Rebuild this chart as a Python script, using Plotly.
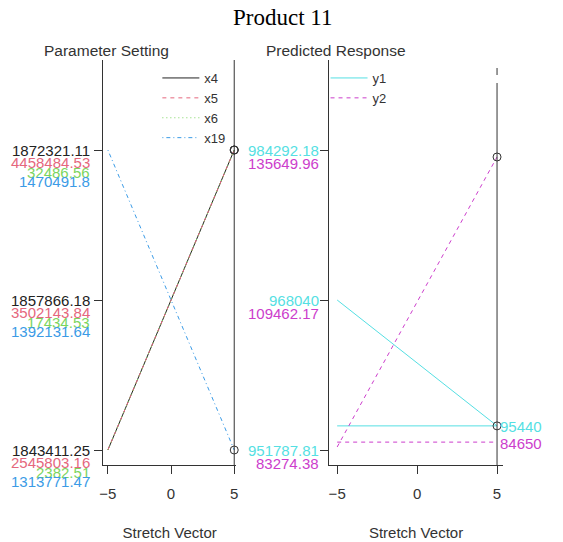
import plotly.graph_objects as go

W, H = 563, 542

# ---------------- data ----------------
stretch = [-5, 5]

x4_vals = [1843411.25, 1872321.11]
x5_vals = [2545803.16, 4458484.53]
x6_vals = [2382.51, 32486.56]
x19_vals = [1470491.8, 1313771.47]

x4_ticks = [1843411.25, 1857866.18, 1872321.11]
x5_ticks = [2545803.16, 3502143.84, 4458484.53]
x6_ticks = [2382.51, 17434.53, 32486.56]
x19_ticks = [1313771.47, 1392131.64, 1470491.8]
x4_tick_text = ["1843411.25", "1857866.18", "1872321.11"]
x5_tick_text = ["2545803.16", "3502143.84", "4458484.53"]
x6_tick_text = ["2382.51", "17434.53", "32486.56"]
x19_tick_text = ["1313771.47", "1392131.64", "1470491.8"]

y1_vals = [968040, 954400]
y2_vals = [83800, 134430]
y1_ticks = [951787.81, 968040, 984292.18]
y2_ticks = [83274.38, 109462.17, 135649.96]
y1_tick_text = ["951787.81", "968040", "984292.18"]
y2_tick_text = ["83274.38", "109462.17", "135649.96"]
y1_ref = 954400
y2_ref = 84650
y1_ref_text = "95440"
y2_ref_text = "84650"

x_ticks = [-5, 0, 5]

# ---------------- styles ----------------
FONT = "Liberation Sans, Arial, sans-serif"
AX = "#333333"
C_X4, C_X5, C_X6, C_X19 = "#222222", "#E5677D", "#7BD55E", "#3B9BE6"
C_Y1, C_Y2 = "#55DFE3", "#CC3DCC"
FS = 15

PLOT_TOP, PLOT_BOT = 60, 465
LOW_PX, HIGH_PX = 450, 150


def yrange(ticks):
    lo, hi = ticks[0], ticks[-1]
    per = (hi - lo) / (LOW_PX - HIGH_PX)
    return [lo - (PLOT_BOT - LOW_PX) * per, hi + (HIGH_PX - PLOT_TOP) * per]


ydom = [1 - PLOT_BOT / H, 1 - PLOT_TOP / H]

fig = go.Figure()

line_specs = [
    ("x4", x4_vals, "y", C_X4, "solid"),
    ("x5", x5_vals, "y2", C_X5, "4px,4px"),
    ("x6", x6_vals, "y3", C_X6, "1px,3px"),
    ("x19", x19_vals, "y4", C_X19, "1px,3px,4px,3px"),
]
for name, vals, yax, col, dash in line_specs:
    fig.add_trace(go.Scatter(x=stretch, y=vals, xaxis="x", yaxis=yax, mode="lines",
                             name=name, line=dict(color=col, width=1, dash=dash),
                             legend="legend"))
for name, vals, yax, col, dash in line_specs:
    fig.add_trace(go.Scatter(x=[stretch[-1]], y=[vals[-1]], xaxis="x", yaxis=yax, mode="markers",
                             showlegend=False, cliponaxis=False,
                             marker=dict(symbol="circle-open", size=8, color=AX, line=dict(width=1))))

# right panel
fig.add_trace(go.Scatter(x=stretch, y=y1_vals, xaxis="x2", yaxis="y5", mode="lines", name="y1",
                         line=dict(color=C_Y1, width=1), legend="legend2"))
fig.add_trace(go.Scatter(x=stretch, y=y2_vals, xaxis="x2", yaxis="y6", mode="lines", name="y2",
                         line=dict(color=C_Y2, width=1, dash="4px,4px"), legend="legend2"))
fig.add_trace(go.Scatter(x=stretch, y=[y1_ref, y1_ref], xaxis="x2", yaxis="y5", mode="lines",
                         showlegend=False, line=dict(color=C_Y1, width=1)))
fig.add_trace(go.Scatter(x=stretch, y=[y2_ref, y2_ref], xaxis="x2", yaxis="y6", mode="lines",
                         showlegend=False, line=dict(color=C_Y2, width=1, dash="4px,4px")))
for vals, yax in [(y1_vals, "y5"), (y2_vals, "y6")]:
    fig.add_trace(go.Scatter(x=[stretch[-1]], y=[vals[-1]], xaxis="x2", yaxis=yax, mode="markers",
                             showlegend=False, cliponaxis=False,
                             marker=dict(symbol="circle-open", size=8, color=AX, line=dict(width=1))))

xcommon = dict(showgrid=False, zeroline=False, showline=True, linecolor=AX, linewidth=1,
               ticks="outside", tickvals=x_ticks, ticklen=8, tickcolor=AX, ticklabelstandoff=7,
               tickfont=dict(family=FONT, size=FS, color=AX),
               title=dict(text="Stretch Vector", font=dict(family=FONT, size=FS, color=AX), standoff=26))
ycommon = dict(showgrid=False, zeroline=False, showline=True, linecolor=AX, linewidth=1,
               ticks="outside", ticklen=8, tickcolor=AX, showticklabels=False, domain=ydom)
hidden = dict(visible=False, showgrid=False, zeroline=False)
LEG_FS = 13

fig.update_layout(
    width=W, height=H, margin=dict(l=0, r=0, t=0, b=0),
    paper_bgcolor="white", plot_bgcolor="white",
    font=dict(family=FONT, size=FS, color=AX),
    xaxis=dict(domain=[100 / W, 235 / W], range=[-5.39, 5.18], anchor="y", **xcommon),
    yaxis=dict(range=yrange(x4_ticks), tickvals=x4_ticks, anchor="x", **ycommon),
    yaxis2=dict(range=yrange(x5_ticks), overlaying="y", anchor="x", domain=ydom, **hidden),
    yaxis3=dict(range=yrange(x6_ticks), overlaying="y", anchor="x", domain=ydom, **hidden),
    yaxis4=dict(range=yrange(x19_ticks), overlaying="y", anchor="x", domain=ydom, **hidden),
    xaxis2=dict(domain=[329 / W, 504 / W], range=[-5.48, 5.35], anchor="y5", **xcommon),
    yaxis5=dict(range=yrange(y1_ticks), tickvals=y1_ticks, anchor="x2", **ycommon),
    yaxis6=dict(range=yrange(y2_ticks), overlaying="y5", anchor="x2", domain=ydom, **hidden),
    legend=dict(x=155 / W, y=1 - 63 / H, xanchor="left", yanchor="top", bgcolor="rgba(0,0,0,0)",
                font=dict(family=FONT, size=LEG_FS, color=AX), itemwidth=37, tracegroupgap=0),
    legend2=dict(x=325 / W, y=1 - 63 / H, xanchor="left", yanchor="top", bgcolor="rgba(0,0,0,0)",
                 font=dict(family=FONT, size=LEG_FS, color=AX), itemwidth=37, tracegroupgap=0),
    showlegend=True,
)

# vertical reference lines at stretch = 5
fig.add_shape(type="line", xref="x", yref="paper", x0=5, x1=5, y0=ydom[0], y1=ydom[1],
              line=dict(color=AX, width=1))
fig.add_shape(type="line", xref="x2", yref="paper", x0=5, x1=5, y0=ydom[0], y1=1 - 83 / H,
              line=dict(color=AX, width=1))
fig.add_shape(type="line", xref="x2", yref="paper", x0=5, x1=5, y0=1 - 75 / H, y1=1 - 68 / H,
              line=dict(color=AX, width=1))

ann = []
# left tick labels
for ticks, texts, yref, col, shift in [
    (x4_ticks, x4_tick_text, "y", C_X4, 0),
    (x5_ticks, x5_tick_text, "y2", C_X5, -12),
    (x6_ticks, x6_tick_text, "y3", C_X6, -22),
    (x19_ticks, x19_tick_text, "y4", C_X19, -31),
]:
    for v, t in zip(ticks, texts):
        ann.append(dict(x=89 / W, xref="paper", y=v, yref=yref, text=t, showarrow=False,
                        xanchor="right", yanchor="middle", yshift=shift,
                        font=dict(family=FONT, size=FS, color=col)))
# right tick labels
for ticks, texts, yref, col, shift in [
    (y1_ticks, y1_tick_text, "y5", C_Y1, 0),
    (y2_ticks, y2_tick_text, "y6", C_Y2, -13),
]:
    for v, t in zip(ticks, texts):
        ann.append(dict(x=320 / W, xref="paper", y=v, yref=yref, text=t, showarrow=False,
                        xanchor="right", yanchor="middle", yshift=shift,
                        font=dict(family=FONT, size=FS, color=col)))
# reference values on the right
ann.append(dict(x=5, xref="x2", y=y1_ref, yref="y5", text=y1_ref_text, showarrow=False,
                xanchor="left", yanchor="middle", xshift=1, yshift=-1,
                font=dict(family=FONT, size=FS, color=C_Y1)))
ann.append(dict(x=5, xref="x2", y=y2_ref, yref="y6", text=y2_ref_text, showarrow=False,
                xanchor="left", yanchor="middle", xshift=1, yshift=-1,
                font=dict(family=FONT, size=FS, color=C_Y2)))
# titles
ann.append(dict(x=281 / W, xref="paper", y=1 - 18 / H, yref="paper", text="Product 11", showarrow=False,
                xanchor="center", yanchor="middle",
                font=dict(family="Liberation Serif, Times New Roman, serif", size=23, color="black")))
ann.append(dict(x=104 / W, xref="paper", y=1 - 51 / H, yref="paper", text="Parameter Setting",
                showarrow=False, xanchor="center", yanchor="middle",
                font=dict(family=FONT, size=15.5, color=AX)))
ann.append(dict(x=336 / W, xref="paper", y=1 - 51 / H, yref="paper", text="Predicted Response",
                showarrow=False, xanchor="center", yanchor="middle",
                font=dict(family=FONT, size=15.5, color=AX)))
fig.update_layout(annotations=ann)

fig.write_html("out.html")
